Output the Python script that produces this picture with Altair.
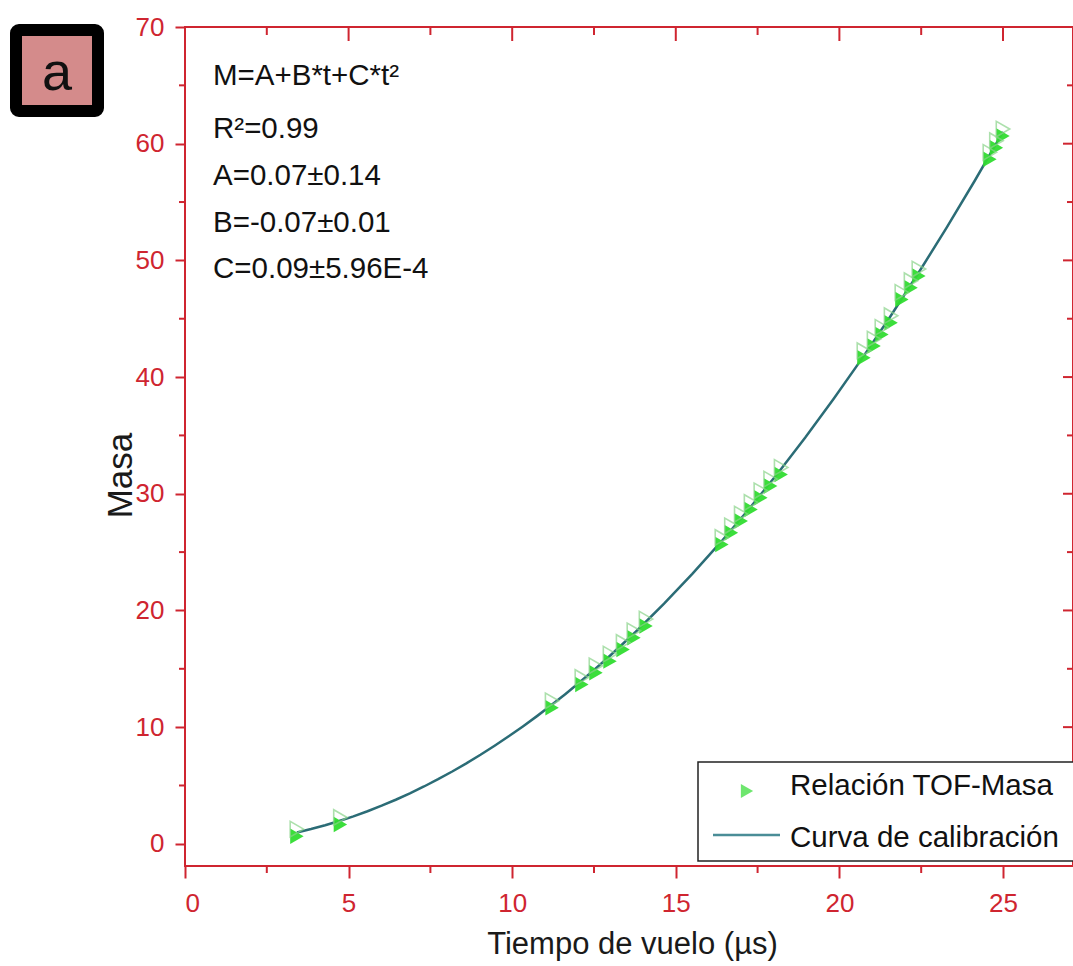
import altair as alt
import pandas as pd

# ---- data ----
t_vals = [3.42, 4.75, 11.22, 12.13, 12.56, 12.99, 13.39, 13.72, 14.09,
          16.41, 16.70, 17.00, 17.30, 17.60, 17.90, 18.22,
          20.75, 21.06, 21.30, 21.58, 21.91, 22.19, 22.43,
          24.60, 24.80, 25.00]
m_vals = [1, 2, 12, 14, 15, 16, 17, 18, 19,
          26, 27, 28, 29, 30, 31, 32,
          42, 43, 44, 45, 47, 48, 49,
          59, 60, 61]
x_major = [0, 5, 10, 15, 20, 25]
x_minor = [2.5, 7.5, 12.5, 17.5, 22.5]
y_major = [0, 10, 20, 30, 40, 50, 60, 70]
y_minor = [5, 15, 25, 35, 45, 55, 65]
eq_lines = ["M=A+B*t+C*t²", "R²=0.99", "A=0.07±0.14", "B=-0.07±0.01", "C=0.09±5.96E-4"]
legend_labels = ["Relación TOF-Masa", "Curva de calibración"]
panel_label = "a"

W, H = 888, 839
RED = "#cf2530"
GREEN = "#30dc30"
TEAL = "#2b6c76"
FONT = "Liberation Sans"

xs = alt.Scale(domain=[0, 27.14], nice=False, zero=False)
ys = alt.Scale(domain=[-1.9, 70], nice=False, zero=False)

pts = pd.DataFrame({"t": t_vals, "M": m_vals})
one = pd.DataFrame({"k": [0]})

x_axis = alt.Axis(values=x_major, domain=False, grid=False, tickColor=RED, tickWidth=2,
                  tickSize=12, labelColor=RED, labelFont=FONT, labelFontSize=26,
                  labelPadding=12, title="Tiempo de vuelo (µs)", titleFont=FONT,
                  titleFontSize=31, titleFontWeight="normal", titleColor="#1a1a1a",
                  titleBaseline="alphabetic", titleAlign="center", titleX=447, titleY=87)
y_axis = alt.Axis(values=y_major, domain=False, grid=False, tickColor=RED, tickWidth=2,
                  tickSize=10, labelColor=RED, labelFont=FONT, labelFontSize=26,
                  labelPadding=11, title="Masa", titleFont=FONT, titleFontSize=35,
                  titleFontWeight="normal", titleColor="#1a1a1a", titleAngle=270,
                  titleBaseline="alphabetic", titleAlign="center", titleX=-54, titleY=448)

X = alt.X("t:Q", scale=xs, axis=x_axis)
Y = alt.Y("M:Q", scale=ys, axis=y_axis)

# fitted calibration curve (quadratic regression computed by Vega-Lite)
curve = alt.Chart(pts).transform_regression("t", "M", method="poly", order=2).mark_line(
    color=TEAL, strokeWidth=2.5
).encode(x=X, y=Y)

pts_fill = alt.Chart(pts).mark_point(shape="triangle-right", filled=True, fill=GREEN,
                                     opacity=0.95, size=240, yOffset=4, strokeWidth=0).encode(x=X, y=Y)
pts_open = alt.Chart(pts).mark_point(shape="triangle-right", filled=False, stroke="#8ad48a",
                                     strokeWidth=1.6, size=240, yOffset=-3).encode(x=X, y=Y)

def xticks(vals, y0, y1):
    return alt.Chart(pd.DataFrame({"t": vals})).mark_rule(color=RED, strokeWidth=2).encode(
        x=X, y=alt.value(y0), y2=alt.value(y1))

def yticks(vals, x0, x1):
    return alt.Chart(pd.DataFrame({"M": vals})).mark_rule(color=RED, strokeWidth=2).encode(
        y=Y, x=alt.value(x0), x2=alt.value(x1))

tick_layers = [
    xticks(x_minor, H, H + 7),
    xticks(x_major, 0, 14),
    xticks(x_minor, 0, 8),
    yticks(y_minor, 0, -6),
    yticks(y_major, W, W - 10),
    yticks(y_minor, W, W - 6),
]

# equation annotation
eq_y = [58, 111, 158, 205, 251]
eq_layers = [
    alt.Chart(one).mark_text(text=line, font=FONT, fontSize=29.5, color="#111111",
                             align="left", baseline="alphabetic").encode(
        x=alt.value(28), y=alt.value(yy))
    for line, yy in zip(eq_lines, eq_y)
]

# panel label box
box = alt.Chart(one).mark_rect(fill="#d48b8b", stroke="#000000", strokeWidth=12,
                               cornerRadius=3).encode(
    x=alt.value(-169), x2=alt.value(-87), y=alt.value(3), y2=alt.value(84))
box_text = alt.Chart(one).mark_text(text=panel_label, font=FONT, fontSize=54, color="#111111",
                                    align="center", baseline="alphabetic").encode(
    x=alt.value(-128), y=alt.value(63))

# legend
leg_box = alt.Chart(one).mark_rect(fill="white", stroke="#222222", strokeWidth=1.5).encode(
    x=alt.value(513), x2=alt.value(910), y=alt.value(735), y2=alt.value(834))
leg_sym = alt.Chart(one).mark_point(shape="triangle-right", filled=True, fill=GREEN,
                                    size=200, strokeWidth=0).encode(
    x=alt.value(562), y=alt.value(764))
leg_line = alt.Chart(one).mark_rule(color="#4a8d97", strokeWidth=2.5).encode(
    x=alt.value(528), x2=alt.value(595), y=alt.value(808))
leg_txt = [
    alt.Chart(one).mark_text(text=lab, font=FONT, fontSize=29.5, color="#111111",
                             align="left", baseline="alphabetic").encode(
        x=alt.value(605), y=alt.value(yy))
    for lab, yy in zip(legend_labels, [768, 820])
]

chart = alt.layer(
    curve, pts_fill, pts_open, *tick_layers, *eq_layers, box, box_text,
    leg_box, leg_sym, leg_line, *leg_txt
).properties(
    width=W, height=H,
    padding={"left": 185, "top": 27, "right": 0, "bottom": 100},
    autosize=alt.AutoSizeParams(type="none"),
).configure_view(stroke=RED, strokeWidth=2)

chart.save("out.html", embed_options={"renderer": "svg", "actions": False})
